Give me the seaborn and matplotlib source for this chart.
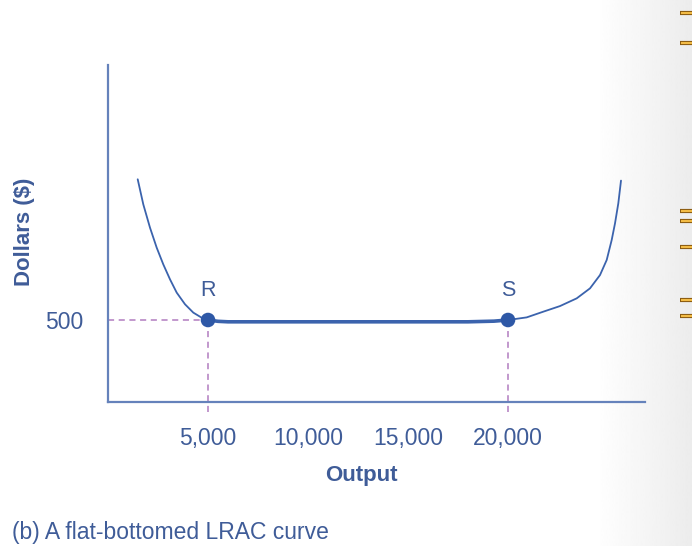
import numpy as np
import pandas as pd
import matplotlib.pyplot as plt
import matplotlib.lines as mlines
import seaborn as sns

# LRAC curve (output, dollars)
output = [1485, 1765, 2100, 2435, 2765, 3100, 3435, 3850, 4265, 4685, 5000,
          5500, 6000, 10000, 15000, 18000, 19300, 20000, 20935, 21770,
          22600, 23435, 24100, 24600, 24935, 25185, 25350, 25515, 25650]
dollars = [1358, 1205, 1063, 941, 839, 748, 667, 596, 545, 514, 500,
           492, 489, 489, 489, 489, 493, 500, 516, 551,
           585, 632, 693, 774, 866, 988, 1089, 1211, 1350]

point_names = ["R", "S"]
point_output = [5000, 20000]
point_dollars = [500, 500]

xticks = [5000, 10000, 15000, 20000]
xtick_labels = ["5,000", "10,000", "15,000", "20,000"]
yticks = [500]
ytick_labels = ["500"]

curve_col = "#3b63ad"
axis_col = "#6582bb"
text_col = "#3f5c98"
dash_col = "#b27cc0"

sns.set_style("white")
plt.rcParams["font.family"] = ["Liberation Sans", "DejaVu Sans"]

fig = plt.figure(figsize=(6.92, 5.46), dpi=100)

# grey shading on the right edge of the page
bg = fig.add_axes([0.86, 0, 0.14, 1], zorder=-5)
grad = np.linspace(1.0, 0.925, 200)[None, :]
bg.imshow(grad, aspect="auto", cmap="gray", vmin=0, vmax=1, extent=[0, 1, 0, 1])
bg.axis("off")
for yy in [13, 43, 211, 221, 247, 300, 316]:
    fig.add_artist(mlines.Line2D([680 / 692, 1.0], [1 - yy / 546] * 2,
                                 color="#8a5a10", lw=3.0, solid_capstyle="butt"))
    fig.add_artist(mlines.Line2D([681 / 692, 1.0], [1 - yy / 546] * 2,
                                 color="#f2bb45", lw=1.5, solid_capstyle="butt"))

ax = fig.add_axes([108 / 692, 1 - 402 / 546, 537 / 692, 337 / 546])
ax.set_facecolor("none")

df = pd.DataFrame({"output": output, "dollars": dollars})
sns.lineplot(data=df, x="output", y="dollars", sort=False, color=curve_col,
             lw=1.3, ax=ax)
flat = df[(df["output"] >= 5000) & (df["output"] <= 20000)]
sns.lineplot(data=flat, x="output", y="dollars", sort=False, color=curve_col,
             lw=2.6, ax=ax)

# dashed guides: across to R, down from both points
ax.plot([0, point_output[0]], [point_dollars[0]] * 2, ls=(0, (4, 3)),
        color=dash_col, lw=1.1, zorder=1)
for px, py in zip(point_output, point_dollars):
    ax.plot([px, px], [-60, py], ls=(0, (4, 3)), color=dash_col, lw=1.1,
            zorder=1, clip_on=False)

pts = pd.DataFrame({"output": point_output, "dollars": point_dollars})
sns.scatterplot(data=pts, x="output", y="dollars", s=110, color="#2e58a6",
                edgecolor="none", zorder=5, ax=ax)
for name, px, py in zip(point_names, point_output, point_dollars):
    ax.text(px, py + 180, name, ha="center", va="center", fontsize=15.5,
            color=text_col)

ax.set_xlim(0, 26850)
ax.set_ylim(0, 2055)
ax.set_xticks(xticks, xtick_labels)
ax.set_yticks(yticks, ytick_labels)
ax.tick_params(axis="both", colors=axis_col, labelcolor=text_col,
               labelsize=16.5, length=6, width=1.3, direction="out")
ax.tick_params(axis="x", pad=12)
ax.tick_params(axis="y", pad=12)
sns.despine(ax=ax)
for side in ["left", "bottom"]:
    ax.spines[side].set_color(axis_col)
    ax.spines[side].set_linewidth(1.6)

ax.set_xlabel("Output", fontsize=16, fontweight="bold", color=text_col)
ax.set_ylabel("Dollars ($)", fontsize=16, fontweight="bold", color=text_col)
ax.xaxis.set_label_coords(0.471, -0.218)
ax.yaxis.set_label_coords(-0.156, 0.504)
ax.xaxis.label.set_va("center")
ax.yaxis.label.set_va("center")

fig.text(12 / 692, 1 - 533 / 546, "(b) A flat-bottomed LRAC curve",
         fontsize=16.5, color=text_col, va="center", ha="left")

fig.savefig("out.png", dpi=100)
